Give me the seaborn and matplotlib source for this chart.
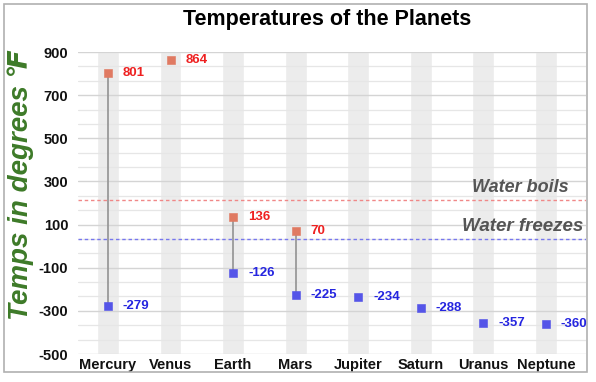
import matplotlib
matplotlib.use("Agg")
import matplotlib.pyplot as plt
from matplotlib.patches import Rectangle
import numpy as np
import pandas as pd
import seaborn as sns

# data
planets = ["Mercury", "Venus", "Earth", "Mars", "Jupiter", "Saturn", "Uranus", "Neptune"]
high_temps = [801, 864, 136, 70, np.nan, np.nan, np.nan, np.nan]
low_temps = [-279, np.nan, -126, -225, -234, -288, -357, -360]
water_boils = 212
water_freezes = 32

sns.set_theme(style="white")
plt.rcParams["font.family"] = ["Liberation Sans", "DejaVu Sans"]

df = pd.DataFrame({"planet": planets, "high": high_temps, "low": low_temps})
df["x"] = np.arange(len(df))

fig = plt.figure(figsize=(5.96, 3.82), dpi=100)
ax = fig.add_axes([78 / 596, 1 - 354 / 382, (586 - 78) / 596, (354 - 52) / 382])

# outer frame
fig.patches.append(Rectangle((4 / 596, 1 - 372 / 382), 583 / 596, 368 / 382,
                             transform=fig.transFigure, fill=False,
                             edgecolor="#b0b0b0", linewidth=1.2))

# grey column bands behind each planet
ax.bar(df["x"], height=1400, bottom=-500, width=0.35, color="#ececec", zorder=0)

# gridlines
major = np.arange(-500, 901, 200)
minor = [v for v in np.linspace(-500, 900, 22) if not np.isclose(v % 200, 100)]
for v in minor:
    ax.axhline(v, color="#e6e6e6", linewidth=0.9, zorder=0.5)
for v in major:
    ax.axhline(v, color="#d4d4d4", linewidth=1.0, zorder=0.6)

# range lines
both = df.dropna(subset=["high", "low"])
ax.vlines(both["x"], both["low"], both["high"], color="#999999", linewidth=1.3, zorder=2)

# reference lines
ax.axhline(water_boils, color="#f08888", linestyle=(0, (2.5, 2)), linewidth=1.0, zorder=1.5)
ax.axhline(water_freezes, color="#7777ee", linestyle=(0, (2.5, 2)), linewidth=1.0, zorder=1.5)

sns.scatterplot(data=df, x="x", y="high", marker="s", s=28, color="#e07a62",
                edgecolor="#e07a62", ax=ax, zorder=3)
sns.scatterplot(data=df, x="x", y="low", marker="s", s=28, color="#5555e8",
                edgecolor="#5555e8", ax=ax, zorder=3)

for _, r in df.iterrows():
    if not np.isnan(r["high"]):
        ax.text(r["x"] + 0.24, r["high"], f"{int(r['high'])}", color="#ee2020",
                fontsize=9.5, fontweight="bold", va="center", ha="left", zorder=4)
    if not np.isnan(r["low"]):
        ax.text(r["x"] + 0.24, r["low"], f"{int(r['low'])}", color="#2525e0",
                fontsize=9.5, fontweight="bold", va="center", ha="left", zorder=4)

ax.text(5.82, water_boils + 20, "Water boils", color="#555555", fontsize=13,
        fontstyle="italic", fontweight="bold", ha="left", va="bottom")
ax.text(5.66, water_freezes + 20, "Water freezes", color="#555555", fontsize=13.5,
        fontstyle="italic", fontweight="bold", ha="left", va="bottom")

ax.set_xlim(-0.479, 7.64)
ax.set_ylim(-500, 900)
ax.set_xticks(df["x"])
ax.set_xticklabels(planets, fontsize=10.5, fontweight="bold", color="#111111")
ax.set_yticks(major)
ax.set_yticklabels([str(v) for v in major], fontsize=10.5, fontweight="bold", color="#111111")
ax.tick_params(length=0, pad=7)
ax.tick_params(axis="x", pad=3)
ax.set_xlabel("")
ax.set_ylabel("")
for s in ax.spines.values():
    s.set_visible(False)

fig.text(327 / 596, 1 - 20 / 382, "Temperatures of the Planets", fontsize=15.5,
         fontweight="bold", ha="center", va="center", color="#000000")
fig.text(21 / 596, 1 - 185 / 382, "Temps in degrees \u2109", fontsize=20, color="#3d7a28",
         fontstyle="italic", fontweight="bold", rotation=90, ha="center", va="center",
         family=["Liberation Sans", "DejaVu Sans"])

fig.savefig("out.png", dpi=100)
